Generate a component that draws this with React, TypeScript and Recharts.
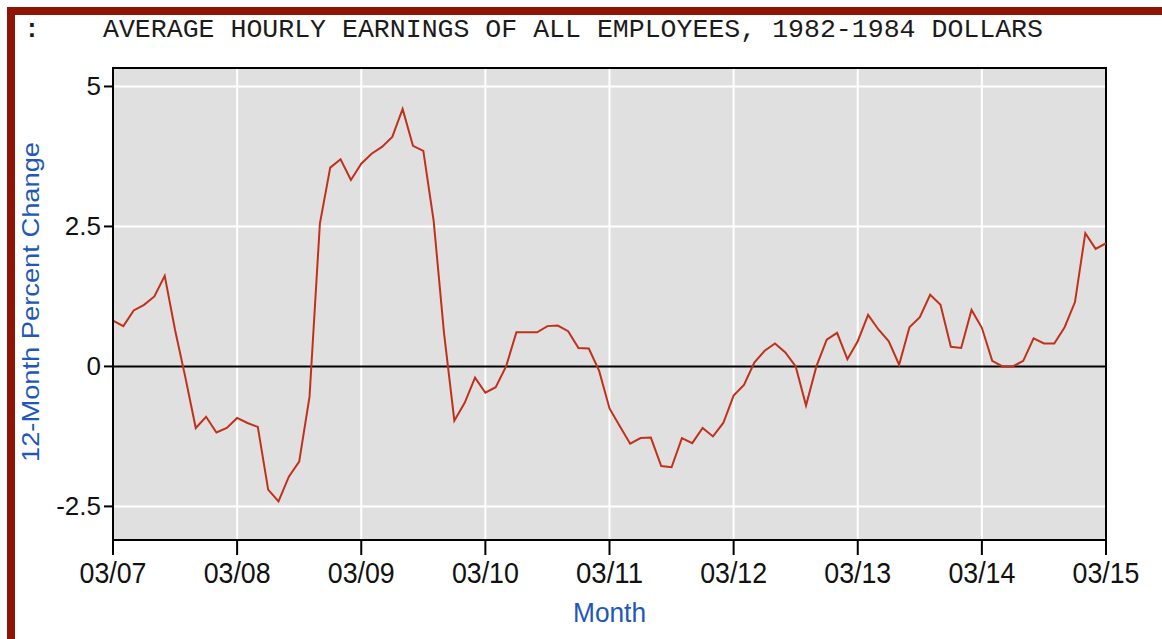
import React from 'react';
import { LineChart, Line, XAxis, YAxis, CartesianGrid, ReferenceLine, ReferenceArea, Label } from 'recharts';

// 12-month percent change, monthly from 03/2007 to 03/2015
const earningsChange = [
  0.82, 0.72, 1.0, 1.1, 1.25, 1.62, 0.65, -0.2, -1.1, -0.9, -1.18, -1.1,
  -0.92, -1.01, -1.08, -2.2, -2.41, -1.97, -1.7, -0.54, 2.55, 3.55, 3.7, 3.33,
  3.62, 3.8, 3.92, 4.1, 4.6, 3.94, 3.85, 2.6, 0.6, -0.97, -0.65, -0.2,
  -0.47, -0.37, 0.0, 0.61, 0.61, 0.61, 0.72, 0.73, 0.63, 0.33, 0.32, -0.08,
  -0.75, -1.07, -1.38, -1.28, -1.27, -1.78, -1.8, -1.28, -1.37, -1.1, -1.25, -1.01,
  -0.52, -0.33, 0.07, 0.28, 0.41, 0.25, 0.0, -0.7, 0.0, 0.48, 0.6, 0.13,
  0.45, 0.92, 0.66, 0.45, 0.03, 0.7, 0.88, 1.28, 1.1, 0.35, 0.33, 1.01,
  0.69, 0.1, 0.0, 0.0, 0.1, 0.5, 0.41, 0.41, 0.7, 1.15, 2.38, 2.1,
  2.2,
];

const yearTickMonths = [0, 12, 24, 36, 48, 60, 72, 84, 96];
const yearTickLabels = ['03/07', '03/08', '03/09', '03/10', '03/11', '03/12', '03/13', '03/14', '03/15'];
const valueTicks = [-2.5, 0, 2.5, 5];
const valueTickLabels = ['-2.5', '0', '2.5', '5'];

const chartTitle = 'AVERAGE HOURLY EARNINGS OF ALL EMPLOYEES, 1982-1984 DOLLARS';
const yAxisTitle = '12-Month Percent Change';
const xAxisTitle = 'Month';

const data = earningsChange.map((value, month) => ({ month, value }));

const SANS = '"Liberation Sans", Arial, sans-serif';
const MONO = '"Liberation Mono", "Courier New", monospace';

const XTick = (props: any) => {
  const { x, y, payload } = props;
  const idx = yearTickMonths.indexOf(payload.value);
  return (
    <text x={x} y={y} dy={26} textAnchor="middle" fontFamily={SANS} fontSize={29} fill="#111"
      textLength={67} lengthAdjust="spacingAndGlyphs">
      {yearTickLabels[idx]}
    </text>
  );
};

const YTick = (props: any) => {
  const { x, y, payload } = props;
  const idx = valueTicks.indexOf(payload.value);
  return (
    <text x={x} y={y} dy={9} textAnchor="end" fontFamily={SANS} fontSize={26} fill="#111">
      {valueTickLabels[idx]}
    </text>
  );
};

const YLabel = () => (
  <text transform="translate(39,302) rotate(-90)" textAnchor="middle" fontFamily={SANS} fontSize={24}
    fill="#2157b8" textLength={320} lengthAdjust="spacingAndGlyphs">
    {yAxisTitle}
  </text>
);

const XLabel = () => (
  <text x={609.5} y={622} textAnchor="middle" fontFamily={SANS} fontSize={27}
    fill="#2157b8" textLength={73} lengthAdjust="spacingAndGlyphs">
    {xAxisTitle}
  </text>
);

export default function App() {
  return (
    <div style={{ position: 'absolute', left: 0, top: 0, width: 1162, height: 639, background: '#fff', overflow: 'hidden' }}>
      <div style={{ position: 'absolute', left: 7, top: 7, width: 1155, height: 8, background: '#8e1503' }} />
      <div style={{ position: 'absolute', left: 7, top: 7, width: 8, height: 632, background: '#8e1503' }} />
      <svg width={1162} height={60} style={{ position: 'absolute', left: 0, top: 0 }}>
        <text x={32} y={37} textAnchor="middle" fontFamily={MONO} fontSize={25.5} fontWeight="bold" fill="#1b1b1b">:</text>
        <text x={573} y={37} textAnchor="middle" fontFamily={MONO} fontSize={25.5} fill="#1b1b1b"
          textLength={940} lengthAdjust="spacingAndGlyphs">
          {chartTitle}
        </text>
      </svg>
      <div style={{ position: 'absolute', left: 0, top: 0 }}>
        <LineChart width={1162} height={639} data={data} margin={{ top: 68, right: 56, bottom: 0, left: 13 }}>
          <CartesianGrid fill="#e0e0e0" stroke="#ffffff" strokeWidth={2} horizontalValues={[-2.5, 2.5, 5]}
            verticalValues={yearTickMonths} />
          <XAxis dataKey="month" type="number" domain={[0, 96]} ticks={yearTickMonths} height={99}
            tickSize={15} tickMargin={2} interval={0} axisLine={{ stroke: '#000', strokeWidth: 2 }}
            tickLine={{ stroke: '#000', strokeWidth: 2 }} tick={<XTick />} allowDataOverflow>
            <Label content={<XLabel />} />
          </XAxis>
          <YAxis type="number" domain={[-3.1, 5.33]} ticks={valueTicks} width={100} tickSize={9} tickMargin={3}
            interval={0} axisLine={{ stroke: '#000', strokeWidth: 2 }} tickLine={{ stroke: '#000', strokeWidth: 2 }}
            tick={<YTick />} allowDataOverflow>
            <Label content={<YLabel />} />
          </YAxis>
          <ReferenceLine y={0} stroke="#000" strokeWidth={2} />
          <Line type="linear" dataKey="value" stroke="#c2301c" strokeWidth={2} dot={false} isAnimationActive={false} />
          <ReferenceArea x1={0} x2={96} y1={-3.1} y2={5.33} fill="none" stroke="#000" strokeWidth={2} ifOverflow="visible" />
        </LineChart>
      </div>
    </div>
  );
}
